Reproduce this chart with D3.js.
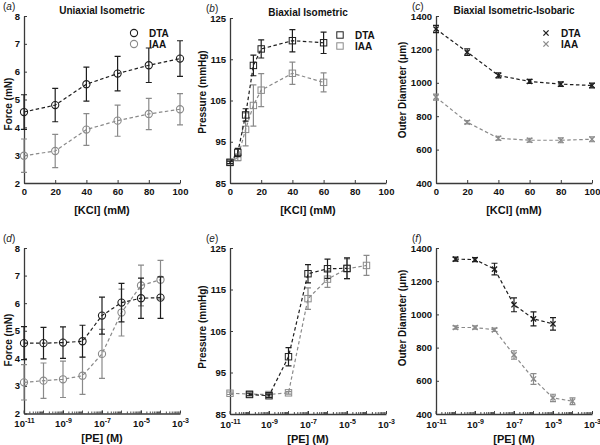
<!DOCTYPE html>
<html><head><meta charset="utf-8">
<script src="https://cdn.jsdelivr.net/npm/d3@7"></script>
<style>
body{margin:0;background:#fff;}
svg{display:block;font-family:"Liberation Sans",Arial,sans-serif;}
</style></head>
<body><svg id="c" width="600" height="445"></svg>
<script>
// ---- data ----
const kclA = [0, 20, 40, 60, 80, 100];
const forceKclDTA = [4.55, 4.8, 5.55, 5.93, 6.23, 6.47];
const forceKclDTAerr = [0.62, 0.6, 0.61, 0.62, 0.62, 0.64];
const forceKclIAA = [2.98, 3.15, 3.92, 4.24, 4.48, 4.65];
const forceKclIAAerr = [0.6, 0.6, 0.57, 0.56, 0.56, 0.56];

const kclB = [0, 5, 10, 15, 20, 40, 60];
const pressKclDTA = [90, 92.4, 101.5, 113.5, 117.5, 119.5, 119];
const pressKclDTAerr = [0.3, 1.0, 1.5, 2.5, 2.2, 2.7, 2.6];
const pressKclIAA = [90, 91.2, 98, 103.8, 107.5, 111.6, 109.4];
const pressKclIAAerr = [0.3, 0.8, 4, 5, 4, 2.7, 2.3];

const kclC = [0, 20, 40, 60, 80, 100];
const diamKclDTA = [1322, 1184, 1044, 1008, 992, 984];
const diamKclDTAerr = [22, 20, 15, 12, 13, 14];
const diamKclIAA = [914, 764, 668, 656, 656, 662];
const diamKclIAAerr = [18, 10, 12, 12, 15, 15];

const peAll = [1e-11, 1e-10, 1e-9, 1e-8, 1e-7, 1e-6, 1e-5, 1e-4];
const forcePeDTA = [4.55, 4.55, 4.57, 4.62, 5.55, 6.02, 6.18, 6.2];
const forcePeDTAerr = [0.6, 0.57, 0.57, 0.58, 0.67, 0.7, 0.73, 0.75];
const forcePeIAA = [3.13, 3.19, 3.24, 3.37, 4.16, 5.66, 6.64, 6.85];
const forcePeIAAerr = [0.64, 0.64, 0.66, 0.68, 0.89, 0.85, 0.74, 0.7];

const pePressDTA = [1e-10, 1e-9, 1e-8, 1e-7, 1e-6, 1e-5];
const pressPeDTA = [89.7, 89.4, 98.8, 118.8, 120, 120.1];
const pressPeDTAerr = [0.3, 0.4, 2.2, 2.2, 2.3, 2.5];
const pePressIAA = [1e-11, 1e-10, 1e-9, 1e-8, 1e-7, 1e-6, 1e-5, 1e-4];
const pressPeIAA = [90, 89.8, 89.7, 90.1, 112.8, 117.5, 120, 120.8];
const pressPeIAAerr = [0.3, 0.3, 0.3, 0.3, 2.6, 2.0, 2.4, 2.4];

const peDiamDTA = [1e-10, 1e-9, 1e-8, 1e-7, 1e-6, 1e-5];
const diamPeDTA = [1333, 1330, 1273, 1058, 973, 943];
const diamPeDTAerr = [12, 12, 35, 42, 42, 38];
const peDiamIAA = [1e-10, 1e-9, 1e-8, 1e-7, 1e-6, 1e-5, 1e-4];
const diamPeIAA = [921, 921, 907, 756, 611, 497, 477];
const diamPeIAAerr = [10, 10, 10, 25, 32, 22, 20];

const seriesNames = ["DTA", "IAA"];
const kclTicks = [0, 20, 40, 60, 80, 100];
const peTicks = [1e-11, 1e-9, 1e-7, 1e-5, 1e-3];
const forceTicks = [2, 3, 4, 5, 6, 7, 8];
const pressTicks = [85, 95, 105, 115, 125];
const diamTicks = [400, 600, 800, 1000, 1200, 1400];

// ---- style ----
const DARK = "#1e1e1e", GRAY = "#8a8a8a", AXIS = "#3a3a3a";
const svg = d3.select("#c");

const panels = [
 {id:"a", x0:24, x1:180, y0:16, y1:183, log:false, xd:[0,100], xt:kclTicks, yd:[2,8], yt:forceTicks,
  title:"Uniaxial Isometric", xl:"[KCl] (mM)", yl:"Force (mN)", ylx:8, yly:104, marker:"circle", legend:true,
  s:[{x:kclA,y:forceKclIAA,e:forceKclIAAerr,c:GRAY},{x:kclA,y:forceKclDTA,e:forceKclDTAerr,c:DARK}]},
 {id:"b", x0:230, x1:386, y0:18, y1:183, log:false, xd:[0,100], xt:kclTicks, yd:[85,125], yt:pressTicks,
  title:"Biaxial Isometric", xl:"[KCl] (mM)", yl:"Pressure (mmHg)", ylx:202, yly:92, marker:"square", legend:true,
  s:[{x:kclB,y:pressKclIAA,e:pressKclIAAerr,c:GRAY},{x:kclB,y:pressKclDTA,e:pressKclDTAerr,c:DARK}]},
 {id:"c", x0:436, x1:592, y0:16, y1:183, log:false, xd:[0,100], xt:kclTicks, yd:[400,1400], yt:diamTicks,
  title:"Biaxial Isometric-Isobaric", xl:"[KCl] (mM)", yl:"Outer Diameter (\u03bcm)", ylx:402, yly:90, marker:"x", legend:true,
  s:[{x:kclC,y:diamKclIAA,e:diamKclIAAerr,c:GRAY},{x:kclC,y:diamKclDTA,e:diamKclDTAerr,c:DARK}]},
 {id:"d", x0:24, x1:180, y0:248, y1:413.5, log:true, xd:[1e-11,1e-3], xt:peTicks, yd:[2,8], yt:forceTicks,
  title:"", xl:"[PE] (M)", yl:"Force (mN)", ylx:8, yly:340, marker:"circle", legend:false,
  s:[{x:peAll,y:forcePeIAA,e:forcePeIAAerr,c:GRAY},{x:peAll,y:forcePeDTA,e:forcePeDTAerr,c:DARK}]},
 {id:"e", x0:230, x1:386, y0:248, y1:414, log:true, xd:[1e-11,1e-3], xt:peTicks, yd:[85,125], yt:pressTicks,
  title:"", xl:"[PE] (M)", yl:"Pressure (mmHg)", ylx:202, yly:327, marker:"square", legend:false,
  s:[{x:pePressIAA,y:pressPeIAA,e:pressPeIAAerr,c:GRAY},{x:pePressDTA,y:pressPeDTA,e:pressPeDTAerr,c:DARK}]},
 {id:"f", x0:436, x1:592, y0:248, y1:414, log:true, xd:[1e-11,1e-3], xt:peTicks, yd:[400,1400], yt:diamTicks,
  title:"", xl:"[PE] (M)", yl:"Outer Diameter (\u03bcm)", ylx:402, yly:318, marker:"x", legend:false,
  s:[{x:peDiamIAA,y:diamPeIAA,e:diamPeIAAerr,c:GRAY},{x:peDiamDTA,y:diamPeDTA,e:diamPeDTAerr,c:DARK}]}
];

function drawMarker(g, type, cx, cy, col){
  if(type==="circle"){
    g.append("circle").attr("cx",cx).attr("cy",cy).attr("r",3.6).attr("fill","none").attr("stroke",col).attr("stroke-width",1.1);
  } else if(type==="square"){
    g.append("rect").attr("x",cx-3.2).attr("y",cy-3.2).attr("width",6.4).attr("height",6.4).attr("fill","none").attr("stroke",col).attr("stroke-width",1.0);
  } else {
    const s=2.6;
    g.append("path").attr("d",`M${cx-s},${cy-s}L${cx+s},${cy+s}M${cx-s},${cy+s}L${cx+s},${cy-s}`).attr("stroke",col).attr("stroke-width",1.3);
  }
}

function supFormat(sel){
  sel.each(function(d){
    const t=d3.select(this); t.text("");
    const e=Math.round(Math.log10(d));
    t.append("tspan").text("10");
    t.append("tspan").attr("dy","-4").attr("font-size","7px").text(String(e));
  });
}

panels.forEach(p=>{
  const g = svg.append("g");
  const x = p.log ? d3.scaleLog().domain(p.xd).range([p.x0,p.x1]) : d3.scaleLinear().domain(p.xd).range([p.x0,p.x1]);
  const y = d3.scaleLinear().domain(p.yd).range([p.y1,p.y0]);

  // minor log ticks
  if(p.log){
    const minor=[];
    for(let k=-11;k<-3;k++){ for(let m=1;m<10;m++){ minor.push(m*Math.pow(10,k)); } }
    g.append("g").selectAll("line").data(minor).join("line")
      .attr("x1",d=>x(d)).attr("x2",d=>x(d)).attr("y1",p.y1).attr("y2",d=>p.y1-(Math.abs(Math.log10(d)-Math.round(Math.log10(d)))<1e-6?3:2))
      .attr("stroke",AXIS).attr("stroke-width",0.9);
  }

  const xa = d3.axisBottom(x).tickValues(p.xt).tickSizeInner(-3).tickSizeOuter(0).tickPadding(p.log?7:5);
  if(!p.log) xa.tickFormat(d3.format("d"));
  const gx = g.append("g").attr("transform",`translate(0,${p.y1})`).call(xa);
  gx.selectAll("text").attr("font-size","9.5px").attr("font-weight","bold").attr("fill","#111")
    .attr("font-family","'Liberation Sans',Arial,sans-serif");
  if(p.log) gx.selectAll(".tick text").call(supFormat);
  gx.select(".domain").attr("stroke",AXIS).attr("stroke-width",p.log?1.6:1.3);
  gx.selectAll(".tick line").attr("stroke",AXIS);

  const ya = d3.axisLeft(y).tickValues(p.yt).tickSizeInner(-3).tickSizeOuter(0).tickPadding(4).tickFormat(d3.format("d"));
  const gy = g.append("g").attr("transform",`translate(${p.x0},0)`).call(ya);
  gy.selectAll("text").attr("font-size","9.5px").attr("font-weight","bold").attr("fill","#111")
    .attr("font-family","'Liberation Sans',Arial,sans-serif");
  gy.select(".domain").attr("stroke",AXIS).attr("stroke-width",1.3);
  gy.selectAll(".tick line").attr("stroke",AXIS);

  // series
  p.s.forEach(s=>{
    const pts = s.x.map((xv,i)=>({x:xv,y:s.y[i],e:s.e[i]}));
    const line = d3.line().x(d=>x(d.x)).y(d=>y(d.y));
    g.append("path").datum(pts).attr("d",line).attr("fill","none").attr("stroke",s.c)
      .attr("stroke-width",1.2).attr("stroke-dasharray","3.5,2.5");
    const eb = g.append("g");
    pts.forEach(d=>{
      const cx=x(d.x), yt=y(d.y+d.e), yb=y(d.y-d.e);
      eb.append("path").attr("d",`M${cx},${yt}V${yb}M${cx-3},${yt}H${cx+3}M${cx-3},${yb}H${cx+3}`)
        .attr("stroke",s.c).attr("stroke-width",1.2).attr("fill","none");
      drawMarker(eb,p.marker,cx,y(d.y),s.c);
    });
  });

  // title
  if(p.title) g.append("text").attr("x",(p.x0+p.x1)/2).attr("y",p.y0-2).attr("text-anchor","middle")
     .attr("font-size","10px").attr("font-weight","bold").attr("fill","#111").text(p.title);
  // axis labels
  g.append("text").attr("x",(p.x0+p.x1)/2).attr("y",p.y1+(p.log?28.5:31)).attr("text-anchor","middle")
     .attr("font-size","11px").attr("font-weight","bold").attr("fill","#111").text(p.xl);
  g.append("text").attr("transform",`translate(${p.ylx+3.5},${p.yly}) rotate(-90)`).attr("text-anchor","middle")
     .attr("font-size","10px").attr("font-weight","bold").attr("fill","#111").text(p.yl);
  // panel label
  const pl = g.append("text").attr("x",p.x0-21+(p.id==="a"||p.id==="d"?0:-3)).attr("y",p.y0-6)
     .attr("font-size","10px").attr("fill","#222");
  pl.append("tspan").text("(");
  pl.append("tspan").attr("font-style","italic").text(p.id);
  pl.append("tspan").text(")");

  // legend
  if(p.legend){
    const lx = p.x1-46, ly = p.y0+17;
    [p.s[1], p.s[0]].forEach((s,i)=>{
      drawMarker(g,p.marker,lx,ly+i*11,s.c);
      g.append("text").attr("x",lx+15).attr("y",ly+i*11+3.5).attr("font-size","10px").attr("font-weight","bold")
       .attr("fill","#111").text(seriesNames[i]);
    });
  }
});
</script></body></html>
